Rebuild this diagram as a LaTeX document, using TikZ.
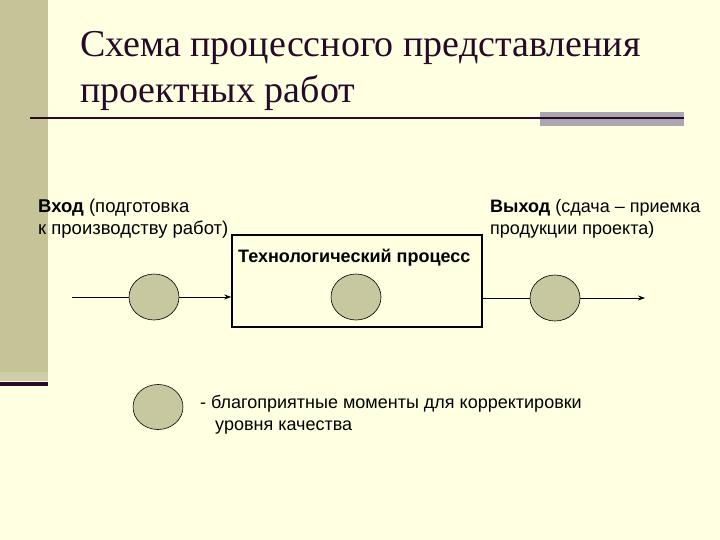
\documentclass[tikz,border=0pt]{standalone}
\usepackage{fontspec}
\setmainfont{Liberation Serif}
\newfontfamily\lsans{Liberation Sans}
\usetikzlibrary{arrows.meta,shapes.geometric}
\definecolor{bgc}{RGB}{255,255,226}
\definecolor{olive}{RGB}{196,196,152}
\definecolor{oliveL}{RGB}{205,205,170}
\definecolor{dpurple}{RGB}{40,10,40}
\definecolor{greybar}{RGB}{172,166,176}
\definecolor{circf}{RGB}{200,200,160}
\tikzset{
  moment/.style={ellipse,draw=black,line width=0.6pt,fill=circf,minimum width=50pt,minimum height=46pt,inner sep=0pt},
  lbl/.style={font=\lsans\fontsize{18.5}{22}\selectfont,inner sep=0pt,align=left},
  flow/.style={line width=0.7pt,-{Stealth[length=7pt,width=5pt]}},
  plain/.style={line width=0.7pt}
}
\begin{document}
\begin{tikzpicture}[x=1pt,y=-1pt]
\useasboundingbox (0,0) rectangle (720,540);
\fill[bgc] (0,0) rectangle (720,540);
% left bar
\fill[olive] (0,0) rectangle (48,372);
\fill[oliveL] (0,372) rectangle (48,381);
\fill[dpurple] (0,381.5) rectangle (48,386);
% title
\node[anchor=base west,inner sep=0pt,font=\fontsize{38}{46}\selectfont,text=dpurple] (t1) at (80,57) {Схема процессного представления};
\node[anchor=base west,inner sep=0pt,font=\fontsize{38}{46}\selectfont,text=dpurple] (t2) at (80,103) {проектных работ};
% underline
\fill[greybar] (540,112) rectangle (684,126);
\draw[dpurple,line width=2.5pt] (30,118) -- (684,118);
% labels
\node[lbl,anchor=base west] (in1) at (38,213) {\textbf{Вход} (подготовка};
\node[lbl,anchor=base west] (in2) at (38,235) {к производству работ)};
\node[lbl,anchor=base west,font=\lsans\fontsize{18}{22}\selectfont] (out1) at (490,213) {\textbf{Выход} (сдача – приемка};
\node[lbl,anchor=base west,font=\lsans\fontsize{18}{22}\selectfont] (out2) at (490,235) {продукции проекта)};
% process box
\node[draw=black,line width=1.6pt,minimum width=250pt,minimum height=92pt,inner sep=0pt] (box) at (357,281) {};
\node[lbl,anchor=base west,font=\lsans\bfseries\fontsize{18}{20}\selectfont] (boxt) at (238,262) {Технологический процесс};
% circles
\node[moment] (c1) at (154,297) {};
\node[moment] (c2) at (356,297) {};
\node[moment] (c3) at (555,298) {};
\coordinate (s) at (72,297);
\coordinate (e) at (645,298);
\draw[plain] (s) -- (c1.west);
\draw[flow] (c1.east) -- (box.west |- c1.east);
\draw[plain] (box.east |- c3.west) -- (c3.west);
\draw[flow] (c3.east) -- (e);
% legend
\node[moment,minimum width=50pt,minimum height=45pt] (lg) at (158,407) {};
\node[lbl,anchor=base west,font=\lsans\fontsize{18}{22}\selectfont] (lt1) at (200,408) {- благоприятные моменты для корректировки};
\node[lbl,anchor=base west,font=\lsans\fontsize{18}{22}\selectfont] (lt2) at (215,430) {уровня качества};
\end{tikzpicture}
\end{document}
